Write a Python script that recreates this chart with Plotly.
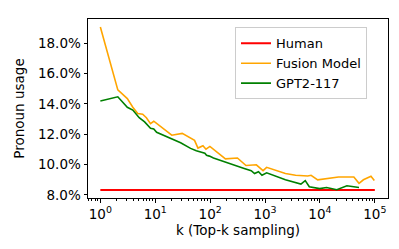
import plotly.graph_objects as go

human_k = [1, 100000]
human_y = [8.32, 8.32]

fusion_k = [1, 2.08, 3.1, 3.9, 4.8, 5.9, 6.9, 8.2, 9.4, 20, 31, 44, 52, 60, 74, 84, 99,
            190, 314, 450, 695, 920, 1070, 2350, 3600, 6000, 6900, 9100, 21800, 41500,
            51500, 62000, 85000, 98000]
fusion_y = [19.06, 14.92, 14.34, 13.77, 13.36, 13.31, 13.08, 12.69, 12.85, 11.93, 12.05, 11.7,
            11.59, 11.08, 11.24, 11.01, 11.19, 10.37, 10.43, 9.93, 9.98, 9.59, 9.81, 9.40,
            9.29, 9.24, 9.29, 8.99, 9.17, 9.17, 8.76, 8.99, 9.22, 8.94]

gpt_k = [1, 2.08, 3.1, 3.9, 5.1, 6.4, 8.2, 9.4, 10.6, 29, 44, 56, 80, 86, 97, 115, 417, 560,
         645, 760, 880, 1070, 2350, 3600, 4500, 5400, 6400, 9900, 13200, 20300, 31000, 51500]
gpt_y = [14.19, 14.46, 13.77, 13.59, 13.08, 12.81, 12.39, 12.34, 12.12, 11.43, 11.06, 10.90,
         10.74, 10.60, 10.55, 10.43, 9.74, 9.59, 9.40, 9.52, 9.29, 9.45, 8.99, 8.83, 8.71,
         8.94, 8.53, 8.41, 8.48, 8.34, 8.60, 8.48]

x_tickvals = [1, 10, 100, 1000, 10000, 100000]
x_ticktext = ["10<sup>0</sup>", "10<sup>1</sup>", "10<sup>2</sup>", "10<sup>3</sup>",
              "10<sup>4</sup>", "10<sup>5</sup>"]
y_tickvals = [8, 10, 12, 14, 16, 18]
y_ticktext = ["8.0%", "10.0%", "12.0%", "14.0%", "16.0%", "18.0%"]

FS = 13.5
fig = go.Figure()
fig.add_trace(go.Scatter(x=human_k, y=human_y, mode="lines", name="Human",
                         line=dict(color="#ff0000", width=2)))
fig.add_trace(go.Scatter(x=fusion_k, y=fusion_y, mode="lines", name="Fusion Model",
                         line=dict(color="#ffa500", width=1.6)))
fig.add_trace(go.Scatter(x=gpt_k, y=gpt_y, mode="lines", name="GPT2-117",
                         line=dict(color="#008000", width=1.6)))

# page body has an 8px default margin, so the figure is shrunk and margins offset
fig.update_layout(
    width=391, height=241,
    margin=dict(l=80, r=11, t=11, b=51, autoexpand=False),
    paper_bgcolor="white", plot_bgcolor="white",
    font=dict(family="DejaVu Sans", size=FS, color="black"),
    showlegend=True,
    legend=dict(x=0.49, y=0.953, xanchor="left", yanchor="top",
                bgcolor="rgba(255,255,255,0.8)", bordercolor="#cccccc", borderwidth=1,
                font=dict(family="DejaVu Sans", size=13), itemwidth=30),
)
fig.update_xaxes(
    type="log", range=[-0.225, 5.24], automargin=False,
    tickvals=x_tickvals, ticktext=x_ticktext,
    showgrid=False, zeroline=False,
    showline=True, linecolor="black", linewidth=1, mirror=True,
    ticks="outside", ticklen=3.5, tickcolor="black",
    tickfont=dict(family="DejaVu Sans", size=FS),
    minor=dict(ticks="outside", ticklen=2, tickcolor="black", dtick="D1", showgrid=False),
    title=dict(text="k (Top-k sampling)", font=dict(family="DejaVu Sans", size=FS), standoff=0),
)
fig.update_yaxes(
    range=[7.79, 19.59], automargin=False,
    tickvals=y_tickvals, ticktext=y_ticktext,
    showgrid=False, zeroline=False,
    showline=True, linecolor="black", linewidth=1, mirror=True,
    ticks="outside", ticklen=3.5, tickcolor="black",
    tickfont=dict(family="DejaVu Sans", size=FS),
    title=dict(text="Pronoun usage", font=dict(family="DejaVu Sans", size=FS), standoff=10),
)

fig.write_html("out.html")
